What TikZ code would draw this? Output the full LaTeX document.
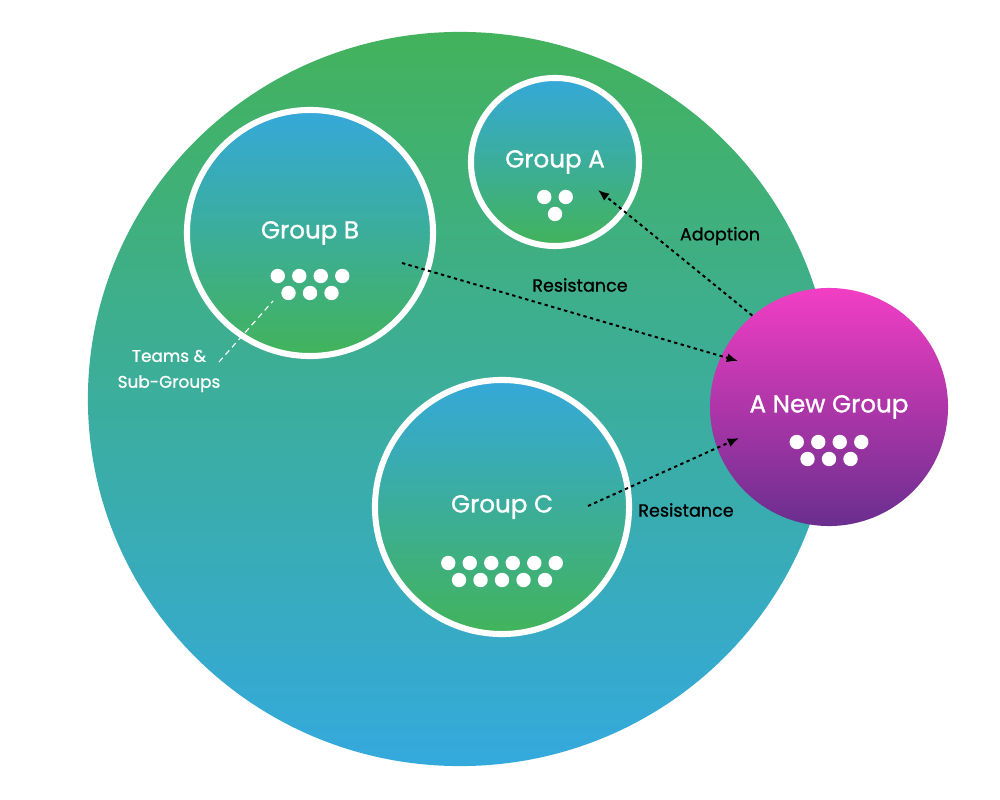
\documentclass[tikz,border=0pt]{standalone}
\usepackage{fontspec}
\setmainfont{Poppins}
\newfontfamily\labelfont{Poppins}[FakeBold=1]
\usepackage{tikz}
\usetikzlibrary{arrows.meta,positioning,calc,shapes.geometric}
\definecolor{outertop}{RGB}{67,178,92}
\definecolor{outermid}{RGB}{58,173,148}
\definecolor{outerbot}{RGB}{52,169,221}
\definecolor{innertop}{RGB}{53,168,218}
\definecolor{innerbot}{RGB}{66,179,90}
\definecolor{newtop}{RGB}{242,62,196}
\definecolor{newbot}{RGB}{106,46,142}
\tikzset{
  orgcircle/.style = {ellipse, inner sep=0pt, top color=outertop, middle color=outermid, bottom color=outerbot},
  group/.style = {circle, draw=white, line width=4.3pt, inner sep=0pt, top color=innertop, bottom color=innerbot,
    text=white, font=\labelfont\fontsize{17.5}{20}\selectfont},
  newgroup/.style = {circle, inner sep=0pt, top color=newtop, bottom color=newbot,
    text=white, font=\labelfont\fontsize{17.5}{20}\selectfont},
  member/.style = {fill=white},
  flow/.style = {-{Latex[length=8pt,width=6.5pt]}, black, line width=1.4pt, dash pattern=on 2.4pt off 2.4pt},
}
% two rows of members: node, dots in the top row, offset below the centre
\newcommand{\members}[3]{%
  \foreach \i in {1,...,#2}
    \fill[member] ($(#1)+({(\i-(#2+1)/2)*21.5},#3)$) circle (0.18cm);
  \pgfmathtruncatemacro{\nlow}{#2-1}
  \foreach \i in {1,...,\nlow}
    \fill[member] ($(#1)+({(\i-#2/2)*21.5},#3+17)$) circle (0.18cm);
}

\begin{document}
\begin{tikzpicture}[
  x=0.025cm, y=-0.025cm,
  flowlabel/.style={font=\labelfont\fontsize{12.5}{15}\selectfont, text=black},
  teamslabel/.style={font=\labelfont\fontsize{12}{18.4}\selectfont, text=white, align=center},
  pointer/.style={white, line width=0.8pt, dash pattern=on 4pt off 3pt},
]
\useasboundingbox (0,0) rectangle (1000,800);

% Nodes
\node[orgcircle, minimum width=18.6cm, minimum height=18.35cm] (org) at (460,399) {};
\node[group, minimum size=4.2cm] (grpA) at (555,162) {Group A};
\node[group, minimum size=6.15cm] (grpB) at (310,233) {Group B};
\node[group, minimum size=6.35cm] (grpC) at (502,507) {Group C};
\node[newgroup, minimum size=5.95cm] (newgrp) at (829,407) {A New Group};

% Members
\members{grpA}{2}{35}
\members{grpB}{4}{43}
\members{grpC}{6}{56}
\members{newgrp}{4}{35}

% Ends of the arrows
\coordinate (adoptTip) at (598,190);
\coordinate (fromB) at (402,263);
\coordinate (intoNewB) at (738,361);
\coordinate (fromC) at (588,506);
\coordinate (intoNewC) at (739,438);
\coordinate (dotsB) at (273,301);
\coordinate (teamsEnd) at (219,362);

% Arrows
\draw[flow] (newgrp.130) -- (adoptTip);
\draw[flow] (fromB) -- (intoNewB);
\draw[flow] (fromC) -- (intoNewC);
\draw[pointer] (teamsEnd) -- (dotsB);

% Labels
\node[flowlabel] (adoptLbl) at (720,236) {Adoption};
\node[flowlabel] (resistB) at (580,285) {Resistance};
\node[flowlabel] (resistC) at (686,510) {Resistance};
\node[teamslabel] (teams) at (169,371) {Teams \&\\Sub-Groups};

\end{tikzpicture}
\end{document}
